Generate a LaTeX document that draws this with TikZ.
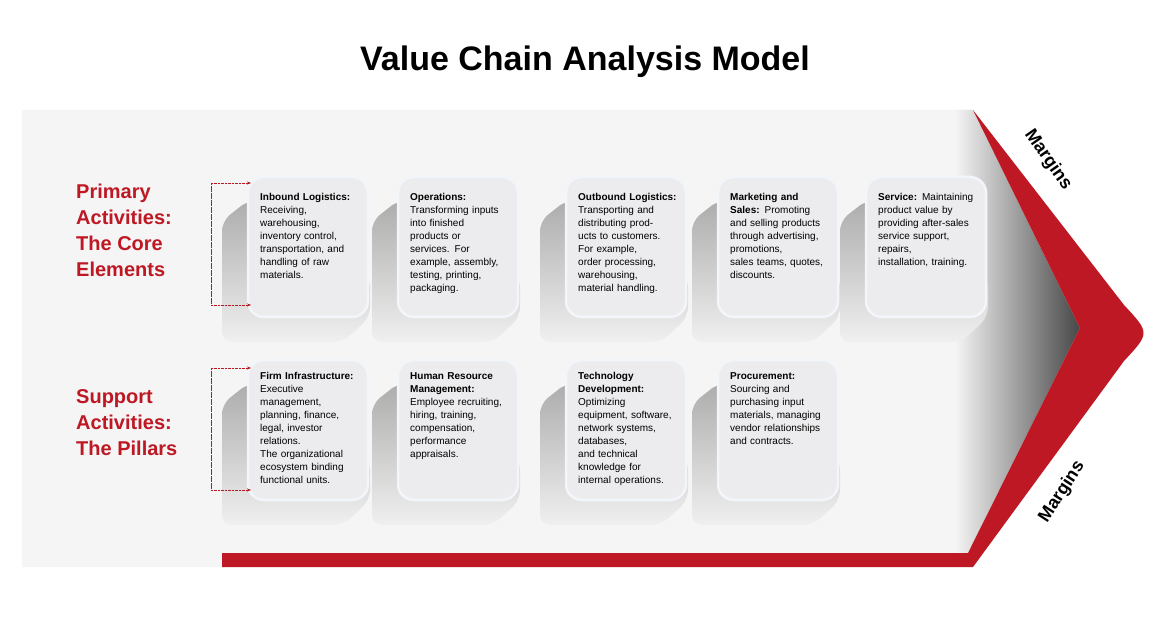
\documentclass[tikz,border=0pt]{standalone}
\usepackage{fontspec}
\setmainfont{Liberation Sans}
\usetikzlibrary{arrows.meta}
\definecolor{vred}{HTML}{BE1824}
\definecolor{boxf}{HTML}{ECECEE}
\definecolor{boxb}{HTML}{F2F6FA}
\tikzset{
  card/.style={draw=boxb,line width=2.5pt,fill=boxf,rounded corners=16pt},
  ctext/.style={anchor=north west,align=left,text width=112pt,font=\fontsize{10}{13}\selectfont,inner sep=0pt},
  side/.style={anchor=north west,align=left,text=vred,font=\bfseries\fontsize{20}{26}\selectfont,inner sep=0pt},
  brk/.style={vred,densely dotted,-{Stealth[length=4pt]}},
  marg/.style={font=\bfseries\fontsize{18}{20}\selectfont,inner sep=0pt}
}
\newcommand{\cardat}[3]{% x y name
  \shade[top color=gray!65,bottom color=gray!12,rounded corners=10pt]
    (#1+2,#2+22) -- (#1-26,#2+44) -- (#1-26,#2+165) -- (#1+95,#2+165) -- (#1+122,#2+140) -- (#1+122,#2+100) -- cycle;
  \draw[card] (#1,#2) rectangle (#1+120,#2+140) coordinate (#3);
}
\begin{document}
\begin{tikzpicture}[x=1pt,y=-1pt]
\useasboundingbox (0,0) rectangle (1170,620);
\fill[white] (0,0) rectangle (1170,620);
\node[font=\bfseries\fontsize{34}{40}\selectfont] (title) at (585,62) {Value Chain Analysis Model};
% background
\fill[gray!8] (22,110) -- (973,110) -- (1080,328) -- (968,553) -- (222,553) -- (222,567) -- (22,567) -- cycle;
\shade[left color=gray!8,right color=black!72] (955,110) -- (973,110) -- (1080,328) -- (968,553) -- (955,553) -- cycle;
\fill[vred] (973,110) -- (1124,305) .. controls (1150,333) .. (1124,361) -- (973,567) -- (222,567) -- (222,553) -- (968,553) -- (1080,328) -- cycle;
\node[marg,rotate=-55] (m1) at (1048,160) {Margins};
\node[marg,rotate=57] (m2) at (1062,492) {Margins};
% side labels
\node[side] (pa) at (76,184) {Primary\\Activities:\\The Core\\Elements};
\node[side] (sa) at (76,389) {Support\\Activities:\\The Pillars};
% cards
\cardat{248}{177}{c1}
\cardat{398}{177}{c2}
\cardat{566}{177}{c3}
\cardat{718}{177}{c4}
\cardat{866}{177}{c5}
\cardat{248}{360}{d1}
\cardat{398}{360}{d2}
\cardat{566}{360}{d3}
\cardat{718}{360}{d4}
\node[ctext] (t1) at (260,193) {\textbf{Inbound Logistics:}\\Receiving,\\warehousing,\\inventory control,\\transportation, and\\handling of raw\\materials.};
\node[ctext] (t2) at (410,193) {\textbf{Operations:}\\Transforming inputs\\into finished\\products or\\services. For\\example, assembly,\\testing, printing,\\packaging.};
\node[ctext] (t3) at (578,193) {\textbf{Outbound Logistics:}\\Transporting and\\distributing prod-\\ucts to customers.\\For example,\\order processing,\\warehousing,\\material handling.};
\node[ctext] (t4) at (730,193) {\textbf{Marketing and}\\\textbf{Sales:} Promoting\\and selling products\\through advertising,\\promotions,\\sales teams, quotes,\\discounts.};
\node[ctext] (t5) at (878,193) {\textbf{Service:} Maintaining\\product value by\\providing after-sales\\service support,\\repairs,\\installation, training.};
\node[ctext] (u1) at (260,372) {\textbf{Firm Infrastructure:}\\Executive\\management,\\planning, finance,\\legal, investor\\relations.\\The organizational\\ecosystem binding\\functional units.};
\node[ctext] (u2) at (410,372) {\textbf{Human Resource}\\\textbf{Management:}\\Employee recruiting,\\hiring, training,\\compensation,\\performance\\appraisals.};
\node[ctext] (u3) at (578,372) {\textbf{Technology}\\\textbf{Development:}\\Optimizing\\equipment, software,\\network systems,\\databases,\\and technical\\knowledge for\\internal operations.};
\node[ctext] (u4) at (730,372) {\textbf{Procurement:}\\Sourcing and\\purchasing input\\materials, managing\\vendor relationships\\and contracts.};
% brackets
\coordinate (b1a) at (251,183); \coordinate (b1b) at (251,305);
\coordinate (b2a) at (251,368); \coordinate (b2b) at (251,490);
\draw[brk] (211,305) -- (211,183) -- (b1a);
\draw[brk] (211,183) -- (211,305) -- (b1b);
\draw[brk] (211,490) -- (211,368) -- (b2a);
\draw[brk] (211,368) -- (211,490) -- (b2b);
\end{tikzpicture}
\end{document}
